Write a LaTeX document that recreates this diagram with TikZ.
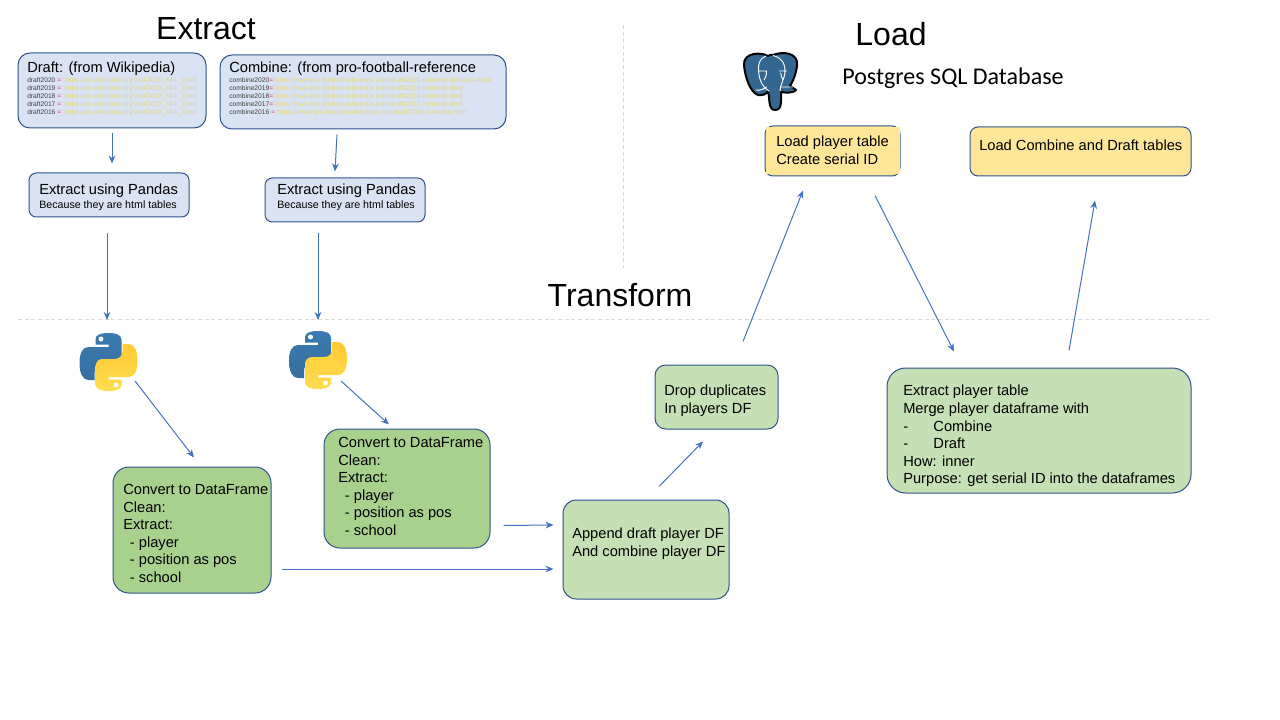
\documentclass[tikz,border=0pt]{standalone}
\usepackage{fontspec}
\setmainfont{Liberation Sans}
\newfontfamily\postgresfont{Carlito}
\usetikzlibrary{arrows.meta}

\definecolor{boxline}{HTML}{2F528F}
\definecolor{flowline}{HTML}{4472C4}
\definecolor{extractfill}{HTML}{DAE3F3}
\definecolor{loadfill}{HTML}{FFE699}
\definecolor{darkgreen}{HTML}{A9D18E}
\definecolor{lightgreen}{HTML}{C5E0B4}
\definecolor{srcname}{HTML}{404040}
\definecolor{srcpink}{HTML}{F92672}
\definecolor{srcstring}{HTML}{E0D878}
\definecolor{pgblue}{HTML}{336791}
\definecolor{pyblue}{HTML}{3A7AB0}
\definecolor{pybluedark}{HTML}{366FA0}
\definecolor{pyyellow}{HTML}{FFDC4F}
\definecolor{pyyellowdark}{HTML}{FFCB35}

% One line of the source lists
\newcommand{\srcline}[3]{{\color{srcname}#1}#2{\color{srcpink}=}#2{\color{srcstring}\textquotesingle#3\textquotesingle}\\}

\tikzset{
  box/.style={draw=boxline,line width=0.75pt,inner sep=0pt},
  boxtext/.style={anchor=north west,inner sep=0pt,align=left,font=\fontsize{11}{13.2}\selectfont},
  srctext/.style={anchor=north west,inner sep=0pt,align=left,font=\fontsize{5}{6}\selectfont},
  title/.style={inner sep=0pt,font=\fontsize{24}{28}\selectfont},
  flow/.style={draw=flowline,line width=0.75pt,-{Stealth[length=6pt,width=5pt]}},
  divider/.style={draw=black!15,line width=0.75pt,dash pattern=on 3pt off 2pt},
  snake/.pic={
    \path[pic actions]
      (-13,-17.5) -- (-13,-23) .. controls (-13,-27) and (-8,-29) .. (0,-29)
      .. controls (8,-29) and (13,-27) .. (13,-22) -- (13,-5)
      .. controls (13,0) and (10,3) .. (6,3) -- (-6,3)
      .. controls (-11,3) and (-14,6) .. (-14,11) -- (-14,18) -- (-20,18)
      .. controls (-26,18) and (-29,11) .. (-29,1)
      .. controls (-29,-9) and (-26,-15) .. (-20,-15) -- (0,-15) -- (0,-17.5) -- cycle;
    \fill[white] (-7.5,-23) circle (2.5);
  },
  pics/pythonlogo/.style={code={
    \pic[top color=pyblue,bottom color=pybluedark] {snake};
    \pic[rotate=180,top color=pyyellowdark,bottom color=pyyellow] {snake};
  }},
  pics/elephant/.style={code={
    \path[fill=pgblue,draw=black,line width=1.5pt,line join=round]
      (-2,-26) .. controls (-8,-30) and (-27,-30) .. (-26,-17)
      .. controls (-25,-5) and (-20,10) .. (-12,13)
      .. controls (-8,14) and (-3,12) .. (-2,9)
      .. controls (0,16) and (-2,28) .. (5,28)
      .. controls (12,28) and (11,20) .. (11,10)
      .. controls (16,11) and (24,11) .. (26,8)
      .. controls (24,6) and (21,5) .. (20,4)
      .. controls (25,-4) and (29,-18) .. (26,-23)
      .. controls (22,-30) and (11,-30) .. (3,-27)
      .. controls (1,-28) and (0,-27) .. (-2,-26) -- cycle;
    \draw[white,line width=0.7pt,line cap=round,line join=round]
      (-4,-26) .. controls (-10,-24) and (-12,-18) .. (-11.5,-12)
        .. controls (-11,-4) and (-9,4) .. (-1,9)
      (3,-26.5) .. controls (10,-25) and (15,-20) .. (15,-11)
        .. controls (15,-3) and (10,2) .. (10,9)
      (-10.5,-11) -- (-3.5,-11) .. controls (-3.5,-7) and (-4.5,-4) .. (-6,-2)
      (9.7,-11) -- (16.3,-11) (10.7,-9) .. controls (11,-6) and (12,-4) .. (13,-2)
      (-14,8) .. controls (-10,9) and (-6,7) .. (-3.5,5)
      (11,5) -- (23,5);
  }}
}

\begin{document}
\begin{tikzpicture}[x=0.75pt,y=-0.75pt]
  \useasboundingbox (0,0) rectangle (1280,720);

  % Dividers
  \coordinate (vtop) at (623.5,25);
  \coordinate (vbot) at (623.5,268);
  \coordinate (hleft) at (18,319.5);
  \coordinate (hright) at (1210,319.5);
  \draw[divider] (vtop) -- (vbot);
  \draw[divider] (hleft) -- (hright);

  % Titles
  \node[title] (extracttitle) at (206,29) {Extract};
  \node[title] (loadtitle) at (891,34) {Load};
  \node[title] (transformtitle) at (620,295) {Transform};
  \node[inner sep=0pt,font=\postgresfont\fontsize{18}{21}\selectfont] (postgres) at (953,78) {Postgres SQL Database};

  % Logos
  \coordinate (elephant) at (770,82);
  \coordinate (pythona) at (108.5,362);
  \coordinate (pythonb) at (318,360);
  \pic at (elephant) {elephant};
  \pic at (pythona) {pythonlogo};
  \pic at (pythonb) {pythonlogo};

  % Extract
  \node[box,fill=extractfill,rounded corners=9pt,minimum width=141pt,minimum height=56.25pt] (draft) at (112,90.5) {};
  \node[box,fill=extractfill,rounded corners=9pt,minimum width=214.5pt,minimum height=55.5pt] (combine) at (363,92) {};
  \node[box,fill=extractfill,rounded corners=5.5pt,minimum width=120pt,minimum height=33pt] (pandasa) at (109,195) {};
  \node[box,fill=extractfill,rounded corners=5.5pt,minimum width=120pt,minimum height=33pt] (pandasb) at (345,200) {};

  \node[boxtext] (drafttext) at (27,62) {Draft: (from Wikipedia)};
  \node[srctext] (draftsrc) at (27,77) {%
    \srcline{draft2020}{ }{https://en.wikipedia.org/wiki/2020\_NFL\_Draft}%
    \srcline{draft2019}{ }{https://en.wikipedia.org/wiki/2019\_NFL\_Draft}%
    \srcline{draft2018}{ }{https://en.wikipedia.org/wiki/2018\_NFL\_Draft}%
    \srcline{draft2017}{ }{https://en.wikipedia.org/wiki/2017\_NFL\_Draft}%
    \srcline{draft2016}{ }{https://en.wikipedia.org/wiki/2016\_NFL\_Draft}};
  \node[boxtext] (combinetext) at (229,62) {Combine: (from pro-football-reference};
  \node[srctext] (combinesrc) at (229,77) {%
    \srcline{combine2020}{}{https://www.pro-football-reference.com/draft/2020-combine.html\#combine}%
    \srcline{combine2019}{}{https://www.pro-football-reference.com/draft/2019-combine.html}%
    \srcline{combine2018}{}{https://www.pro-football-reference.com/draft/2018-combine.html}%
    \srcline{combine2017}{}{https://www.pro-football-reference.com/draft/2017-combine.html}%
    \srcline{combine2016}{ }{https://www.pro-football-reference.com/draft/2016-combine.html}};
  \node[boxtext] (pandasatext) at (39,184) {Extract using Pandas\\[-3.2pt]{\fontsize{8}{10}\selectfont Because they are html tables}};
  \node[boxtext] (pandasbtext) at (277,184) {Extract using Pandas\\[-3.2pt]{\fontsize{8}{10}\selectfont Because they are html tables}};

  % Transform
  \node[box,fill=darkgreen,rounded corners=12pt,minimum width=118.5pt,minimum height=94.5pt] (converta) at (192,530) {};
  \node[box,fill=darkgreen,rounded corners=12pt,minimum width=124.5pt,minimum height=89.25pt] (convertb) at (407,488.5) {};
  \node[box,fill=lightgreen,rounded corners=10pt,minimum width=124.5pt,minimum height=74.25pt] (append) at (646,549.5) {};
  \node[box,fill=lightgreen,rounded corners=8pt,minimum width=92.25pt,minimum height=48pt] (drop) at (716.5,397) {};
  \node[box,fill=lightgreen,rounded corners=14pt,minimum width=228pt,minimum height=93.75pt] (merge) at (1039,430.5) {};

  \node[boxtext] (convertatext) at (123,484) {Convert to DataFrame\\Clean:\\Extract:\\\hspace*{5pt}- player\\\hspace*{5pt}- position as pos\\\hspace*{5pt}- school};
  \node[boxtext] (convertbtext) at (338,437) {Convert to DataFrame\\Clean:\\Extract:\\\hspace*{5pt}- player\\\hspace*{5pt}- position as pos\\\hspace*{5pt}- school};
  \node[boxtext] (appendtext) at (572,528) {Append draft player DF\\And combine player DF};
  \node[boxtext] (droptext) at (664,385) {Drop duplicates\\In players DF};
  \node[boxtext] (mergetext) at (903,385) {Extract player table\\Merge player dataframe with\\-\hspace{19pt}Combine\\-\hspace{19pt}Draft\\How: inner\\Purpose: get serial ID into the dataframes};

  % Load
  \node[box,fill=loadfill,rounded corners=6pt,minimum width=101.25pt,minimum height=37.5pt] (loadplayer) at (832.5,151) {};
  \fill[loadfill] ([shift={(1,2)}]loadplayer.north west) rectangle ([shift={(-1,-2)}]loadplayer.south east);
  \node[box,fill=loadfill,rounded corners=6pt,minimum width=165.75pt,minimum height=36.75pt] (loadcombine) at (1080.5,151.5) {};

  \node[boxtext] (loadplayertext) at (776,136) {Load player table\\Create serial ID};
  \node[boxtext] (loadcombinetext) at (979,140) {Load Combine and Draft tables};

  % Connectors
  \draw[flow] ([shift={(0,5)}]draft.south) -- ([shift={(3,-9)}]pandasa.north);
  \draw[flow] ([shift={(-26,5)}]combine.south) -- ([shift={(-10,-6)}]pandasb.north);
  \draw[flow] ([shift={(-2,16)}]pandasa.south) -- ([shift={(-1.5,-42)}]pythona);
  \draw[flow] ([shift={(-27,11)}]pandasb.south) -- ([shift={(0,-40)}]pythonb);
  \draw[flow] ([shift={(26.5,19)}]pythona) -- ([shift={(2,-9)}]converta.north);
  \draw[flow] ([shift={(23,21)}]pythonb) -- ([shift={(-18,-4)}]convertb.north);
  \draw[flow] ([shift={(13,-23)}]convertb.south east) -- ([shift={(-9,-24.5)}]append.west);
  \draw[flow] ([shift={(10,39)}]converta.east) -- ([shift={(-9,19.5)}]append.west);
  \draw[flow] ([shift={(13,-13)}]append.north) -- ([shift={(-13.5,12)}]drop.south);
  \draw[flow] ([shift={(26.5,-23)}]drop.north) -- ([shift={(-29.5,14)}]loadplayer.south);
  \draw[flow] ([shift={(42.5,19)}]loadplayer.south) -- ([shift={(-85,-16)}]merge.north);
  \draw[flow] ([shift={(30,-17)}]merge.north) -- ([shift={(14.5,24)}]loadcombine.south);
\end{tikzpicture}
\end{document}
